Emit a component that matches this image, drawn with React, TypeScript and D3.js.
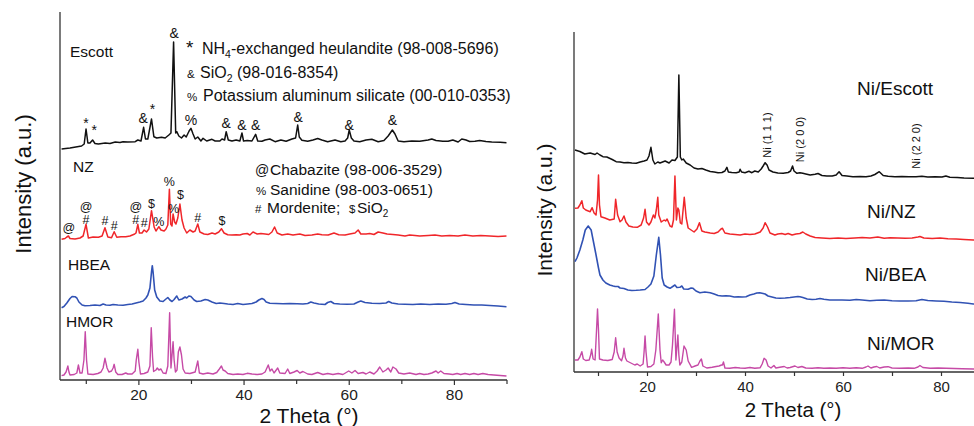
import React from 'react';
import * as d3 from 'd3';

type P = [number, number];

// ---------- Left panel (raw zeolites), [2θ, intensity a.u. incl. offset]
const escott: P[] = [
  [5.3,231],[6.9,232],[9.1,234],[9.6,236],[9.95,251],[10.3,237],[10.7,237],[11.2,240],[11.65,236.5],[12.3,236],
  [13.6,237],[14.5,236.5],[15.5,238],[16.4,237.5],[17.0,238.3],[17.9,238],[19.3,238.3],[19.8,240],[20.4,239],
  [20.9,252.7],[21.25,241],[21.7,241],[22.4,261],[22.85,243.3],[23.4,242],[24.3,242.7],[25.0,242],[25.7,245],
  [26.1,247],[26.6,338],[27.0,247],[27.2,248.3],[27.6,244],[28.1,242],[28.6,245],[29.0,243],[29.55,249],
  [29.9,251.7],[30.3,246],[30.7,241],[31.2,243],[31.8,239],[32.2,241.7],[32.9,239],[33.9,240.7],[34.5,239],
  [35.4,239],[35.8,241],[36.3,240],[36.6,248.3],[37.0,240],[37.7,239],[38.5,240],[39.2,239],[39.6,247],
  [39.9,239],[40.6,239.5],[41.5,239],[42.2,245.7],[42.6,239],[43.4,238.7],[44.0,240],[44.9,241],[45.9,238.3],
  [47.0,240],[48.0,238.7],[49.1,241],[49.8,242],[50.2,255],[50.5,243],[51.0,239.7],[52.1,238.7],[53.1,240],
  [54.0,241.5],[54.8,240],[55.9,238.3],[57.3,240],[58.4,238.3],[59.2,239],[59.7,242],[60.0,250],[60.4,242],
  [60.9,239],[62.0,238.3],[63.2,240],[64.3,240.7],[65.5,238.3],[66.6,239.5],[67.4,244],[68.2,250],[68.7,246],
  [69.3,239],[70.4,238.3],[71.9,239],[73.4,238.7],[75.0,240],[75.7,241],[76.5,239.5],[77.8,238.7],[78.8,238.7],
  [79.7,240],[80.7,238],[81.4,241],[82.2,240],[82.9,238.5],[83.9,238.7],[84.8,239.5],[86.0,238.5],[87.1,238],
  [88.7,237.7],[89.9,237.3],
];

const nz: P[] = [
  [5.3,140.7],[5.95,141.5],[6.3,143],[6.6,144],[6.9,141.5],[7.85,141],[8.8,142],[9.4,144],[9.95,155.7],[10.4,142],
  [11.3,143],[12.3,142.7],[13.0,144],[13.55,152.3],[14.1,143],[14.8,142.3],[15.3,148.3],[15.8,142.7],[16.6,143.3],
  [17.5,143.3],[18.3,144],[19.1,145.7],[19.45,147],[19.8,155.7],[20.1,147],[20.6,147],[21.0,150],[21.45,148],
  [21.9,151],[22.4,169.3],[22.9,153],[23.25,149],[23.8,153.3],[24.2,150],[24.8,149],[25.15,151],[25.5,155],
  [25.8,190.7],[26.05,156],[26.3,154],[26.5,166],[26.8,158],[27.05,156],[27.4,162],[27.8,176],[28.2,160],
  [28.6,152],[29.1,147],[29.7,150],[30.3,148],[30.7,149],[31.2,156],[31.6,148],[32.4,146],[33.1,145.5],[33.9,147],
  [34.5,146],[35.2,148],[35.7,151.3],[36.2,147],[36.9,145.3],[37.7,145],[38.5,145.3],[39.2,145],[39.8,146],
  [40.6,146.5],[41.1,145],[41.7,148],[42.5,146],[43.2,146.5],[44.0,146],[44.7,145.5],[45.3,148],[45.8,153],
  [46.3,147],[47.2,145],[48.3,146],[49.3,145],[50.6,146],[51.6,144.5],[52.9,145],[54.0,146],[54.8,145.3],
  [56.0,145],[57.1,147],[58.0,145.3],[59.2,145],[60.1,146],[61.1,147],[61.7,150],[62.2,146],[63.2,146],
  [63.9,146.5],[64.7,145.5],[65.5,148],[66.4,147],[67.2,146],[68.3,145.5],[69.3,145],[70.6,144],[71.5,145],
  [72.5,144.5],[73.4,144],[75.0,144.5],[76.3,145],[77.6,144],[79.1,144.5],[80.7,144],[82.0,145],[83.5,144],
  [85.0,144.5],[86.7,144],[88.3,143.5],[89.9,144],
];

const hbea: P[] = [
  [5.3,72.3],[5.75,73.5],[6.3,77],[6.9,81.5],[7.3,83.5],[7.85,83.3],[8.2,82],[8.6,78],[9.2,75],[9.75,74.3],
  [10.7,74.5],[11.65,75],[12.6,74.5],[13.2,76],[13.75,75],[14.5,74.7],[15.1,75.5],[16.0,75],[17.0,74.7],
  [17.9,75.5],[18.7,76],[19.45,77],[20.2,78],[20.8,79],[21.35,82],[21.7,85],[22.1,92],[22.4,108],[22.55,114.3],
  [22.7,108],[23.0,90],[23.4,83],[24.0,79],[24.6,78.5],[25.15,81],[25.5,82.5],[25.9,80],[26.3,78.5],[26.7,80.5],
  [27.2,84],[27.6,80],[28.2,81],[28.8,83],[29.1,82],[29.5,84],[29.9,83.5],[30.5,80],[31.0,78.5],[31.8,79],
  [32.6,80.5],[33.1,80],[33.9,78],[34.7,76.5],[35.4,77],[36.2,76.5],[36.9,76],[37.9,75.5],[38.8,76.5],[39.8,75.5],
  [40.7,76],[41.5,76.5],[42.3,78],[42.8,80],[43.4,81.5],[43.8,80.5],[44.2,78],[44.9,76.7],[46.1,76.5],[47.4,76.3],
  [48.7,76.5],[50.1,76.3],[51.2,76],[52.1,76.5],[52.7,78],[53.3,77],[54.2,76],[55.4,75.5],[55.9,77.5],[56.5,78.5],
  [57.1,76.5],[58.2,76],[59.6,75.7],[60.9,76],[61.7,78],[62.2,79],[63.0,77.5],[64.3,76.7],[65.8,76.5],[67.0,77],
  [67.5,78.5],[68.1,77],[69.3,76],[70.6,75.7],[72.1,75.5],[73.6,76],[75.3,75.5],[76.9,76],[78.4,75.7],[79.5,76.5],
  [80.1,77.5],[80.9,76],[82.2,75.5],[83.7,75],[85.2,75],[86.7,74.5],[88.3,74],[89.9,73.3],
];

const hmor: P[] = [
  [5.3,4.3],[5.75,5],[6.15,8],[6.5,14],[6.7,8],[6.9,5],[7.7,5.5],[8.2,7],[8.5,15],[8.8,7],[9.2,7],[9.55,20],
  [9.8,48.3],[10.05,20],[10.3,6],[11.3,5.5],[12.2,6.5],[12.8,8],[13.2,12],[13.55,21.7],[13.95,12],[14.3,8],
  [14.8,9],[15.1,12],[15.3,15.7],[15.6,8],[16.0,5.5],[16.8,5.5],[17.5,7],[17.9,6],[18.7,6],[19.3,9],[19.5,20],
  [19.8,30.7],[20.0,18],[20.3,6],[21.0,6.5],[21.7,8],[22.1,14],[22.35,52.3],[22.6,23],[22.8,8.5],[23.25,10],
  [23.5,12],[23.8,10],[24.2,11],[24.6,7],[25.15,6.5],[25.5,14],[25.85,67.3],[26.1,12],[26.35,28],[26.5,38.3],
  [26.7,20],[26.95,8],[27.25,10],[27.5,28],[27.8,33],[28.1,25],[28.4,11],[28.8,7],[29.7,6.5],[30.7,8],[31.2,19],
  [31.5,7],[32.2,6],[33.1,7],[34.1,6],[34.8,7.5],[35.3,11],[35.7,14],[36.0,10],[36.4,9],[36.9,6.5],[37.9,5.5],
  [38.8,6],[39.8,5.5],[40.6,6.7],[41.5,6],[42.5,5.5],[43.4,6],[44.0,8],[44.6,15],[44.95,9],[45.3,11],[45.7,7],
  [46.4,12],[46.8,7],[47.8,6.5],[48.3,11],[48.7,6.5],[49.5,8],[50.1,9.5],[50.6,7],[51.2,8.5],[52.1,6],[52.9,5.5],
  [54.0,7.5],[55.0,5.5],[55.9,6.5],[56.9,5.5],[57.9,6.5],[58.8,5.5],[59.9,9],[60.5,7],[61.1,9.5],[61.7,6.5],
  [62.6,7.5],[63.2,6],[63.9,8],[64.7,6],[65.3,9],[65.8,13],[66.4,8],[67.0,10],[67.4,12],[67.9,8],[68.3,13],
  [68.9,11],[69.4,7],[70.4,6],[71.5,7],[72.7,5.5],[73.4,6.5],[74.2,5.5],[75.0,6],[75.7,7],[76.5,9],[76.9,7],
  [77.4,9],[78.0,6.5],[79.0,6],[79.7,5.5],[80.5,6.5],[81.2,5.5],[82.0,6.5],[82.9,5.5],[83.7,6.5],[84.5,5.5],
  [85.4,6.5],[86.4,5.5],[87.5,5],[88.7,4.5],[89.9,4],
];

// ---------- Right panel (Ni catalysts)
const niEscott: P[] = [
  [5.2,222],[6.2,220.5],[7.2,218],[8.3,219],[9.3,217.5],[9.7,219],[10.3,217],[10.9,215.3],[11.7,215],[12.8,212.5],
  [13.6,210.3],[14.4,210],[15.2,209.3],[16.0,209.5],[16.8,209],[17.7,208.7],[18.5,210],[19.3,211],[19.9,212],
  [20.3,216],[20.7,224.7],[21.1,212],[21.5,208],[22.1,210],[22.55,209],[23.6,211],[24.4,209],[25.0,212],
  [25.6,211.5],[26.1,215],[26.4,297],[26.7,215],[27.0,212],[27.3,213],[27.9,209],[28.7,207],[29.5,204],[30.3,203],
  [31.1,203.5],[31.9,202],[32.8,200.5],[33.6,200],[34.4,199.3],[35.2,199.5],[35.8,201],[36.2,204.7],[36.5,200],
  [37.2,199.5],[38.1,199.3],[38.7,200],[38.9,202.7],[39.2,200],[39.9,199.3],[40.7,200.7],[41.3,199.3],[41.9,201],
  [42.6,200],[43.2,203],[43.6,206],[44.0,209.3],[44.4,207],[44.8,202],[45.6,200],[46.6,199],[47.7,198.7],
  [48.7,199.5],[49.2,201],[49.6,206],[49.9,201],[50.5,198.7],[51.1,199.3],[51.7,198.7],[52.3,198],[53.2,197],
  [54.2,197.7],[54.8,198.5],[55.6,196.5],[56.6,196],[57.7,196],[58.5,197],[59.1,200.3],[59.7,196.5],[60.7,196],
  [61.9,195.3],[63.4,195.5],[64.6,195.3],[65.6,196],[66.4,197.5],[67.3,200.3],[68.1,196.5],[69.1,195.7],
  [70.5,195.3],[71.9,195.5],[73.4,195.3],[74.8,195.3],[76.0,195.7],[77.2,195],[78.7,195.3],[80.1,195],[80.9,196],
  [81.7,194.7],[83.2,194.5],[84.6,194],[86.5,193.7],[89.9,193.5],
];

const niNz: P[] = [
  [5.2,163.7],[5.8,164],[6.2,167],[6.6,171.3],[6.9,164],[7.4,162],[8.3,160.3],[8.7,164.3],[9.1,159],[9.5,157],
  [9.8,172],[10.0,197],[10.2,167],[10.5,155.3],[11.3,154],[12.3,152],[13.2,153],[13.5,172.7],[13.9,157],
  [14.4,150.3],[14.8,152],[15.2,156],[15.6,150],[16.2,146],[17.0,145],[17.9,144.7],[18.7,147],[19.2,154],
  [19.5,162.7],[19.8,150],[20.3,147],[20.7,150],[21.2,157],[21.5,154],[21.8,162],[22.1,174.7],[22.3,157],
  [22.8,150],[23.4,152],[23.7,151],[24.0,153],[24.6,146],[25.0,145],[25.3,152],[25.6,196],[25.9,152],[26.2,164],
  [26.4,162],[26.7,149],[27.0,148],[27.5,174.7],[27.9,154],[28.3,144],[28.9,142],[29.5,140],[30.1,143],
  [30.6,149.3],[31.1,141],[31.7,140],[32.8,139],[33.6,138.5],[34.4,140],[35.0,143],[35.3,143.7],[35.8,139],
  [36.8,138],[37.9,137.5],[38.9,137],[39.9,138],[40.9,137.5],[41.9,138],[43.0,140],[43.6,144],[44.0,149.3],
  [44.5,145],[45.0,139],[46.0,137],[46.6,138],[47.4,138.5],[48.1,137.5],[48.7,138.5],[49.5,137],[50.3,138],
  [51.1,138.5],[51.7,140],[52.3,138],[53.2,136],[54.2,134.5],[55.6,134],[57.2,133.5],[58.9,134],[60.5,133.5],
  [62.3,134],[63.8,134.5],[65.4,134],[67.0,135],[68.3,133.7],[69.5,134.3],[71.1,134],[72.6,133.7],[74.0,134],
  [75.2,135],[75.6,135.5],[76.4,134],[78.1,133.5],[79.7,134],[81.3,133.3],[83.0,133],[84.6,132.5],[86.5,132],
  [89.9,131.7],
];

const niBea: P[] = [
  [5.2,110.3],[5.6,114],[6.2,122],[6.8,132],[7.3,142],[7.9,146],[8.5,142],[8.9,132],[9.5,117],[10.0,104],
  [10.3,97],[10.9,92],[11.5,89],[12.3,87],[13.0,86],[13.4,85.5],[14.0,85.5],[14.4,84],[15.2,83.5],[16.0,82],
  [16.8,81.5],[17.7,81.7],[18.5,82],[19.5,82.5],[20.1,85],[20.7,88],[21.3,96],[21.8,117],[22.3,134.7],[22.65,117],
  [23.0,94],[23.4,87],[24.0,85],[24.6,83.7],[25.3,86],[25.6,87],[26.0,84.5],[26.6,84.7],[27.0,86],[27.4,83],
  [28.3,82.7],[28.9,84],[29.3,83.7],[29.9,81],[30.7,79.3],[31.7,80],[32.8,79.3],[33.6,78],[34.4,76.5],[35.2,76],
  [36.0,76.3],[36.8,76],[37.7,75],[38.5,75.3],[39.3,75],[40.1,75.3],[40.9,77],[41.7,78],[42.3,79],[42.9,79.3],
  [43.6,78.5],[44.0,78],[44.6,76],[45.4,75],[46.2,74],[47.0,73.7],[48.1,74],[49.1,74.5],[49.9,75],[50.7,75.5],
  [51.1,75.3],[51.7,74.5],[52.6,73],[53.6,72.5],[54.4,72.7],[55.2,73.5],[56.0,72.7],[57.2,72],[58.5,72],[59.7,72],
  [61.3,71.7],[62.6,72.5],[63.8,72],[65.4,71.3],[66.8,71.7],[68.3,72],[69.9,71.3],[71.5,71],[73.2,71],[74.8,71.3],
  [76.0,72.5],[77.2,71.5],[78.9,71],[80.5,70.7],[82.1,70],[83.8,69.5],[85.4,68.7],[86.5,68],[89.9,67.5],
];

const niMor: P[] = [
  [5.2,12],[5.8,12],[6.2,15],[6.6,20.3],[6.9,13],[7.4,11.5],[8.1,12],[8.4,17],[8.6,22.7],[8.9,13],[9.3,12],
  [9.6,42],[9.8,63],[10.0,42],[10.2,13],[10.9,12],[11.9,11.5],[12.8,12.5],[13.2,20],[13.5,34.3],[13.8,20],
  [14.2,14],[14.7,11.3],[15.0,16],[15.2,23.7],[15.5,14],[15.8,11],[16.6,9],[17.4,7],[17.9,8],[18.5,6],[19.1,8],
  [19.3,20],[19.5,36],[19.7,20],[20.0,5],[20.7,5.5],[21.3,8],[21.7,22],[22.2,58],[22.55,22],[22.8,9.3],[23.1,12],
  [23.2,11.3],[23.4,10],[23.8,7],[24.4,7],[24.8,10],[25.1,27],[25.5,62.7],[25.8,12],[26.2,37],[26.4,17],[26.6,7],
  [27.0,10],[27.45,26],[27.9,22],[28.3,11],[29.0,4.7],[29.7,6],[30.3,7],[30.7,11],[31.0,13],[31.3,6],[32.1,4],
  [33.2,4.7],[34.0,5.5],[34.6,6],[35.1,7],[35.3,7],[35.5,10],[35.8,4],[36.8,3.7],[37.9,4.5],[38.9,4],[39.9,3.7],
  [40.9,4.5],[41.9,3.7],[43.0,4.3],[43.4,8],[43.8,13.7],[44.2,12],[44.6,6],[45.2,4],[45.8,6.5],[46.2,4],[47.0,4.7],
  [47.9,5.5],[48.5,4],[49.1,4.5],[50.1,6],[50.7,4.5],[51.5,5.5],[52.3,4],[53.6,3.7],[54.8,4.3],[56.0,3.7],[57.2,4],
  [58.5,3.7],[59.9,4.3],[61.3,3.7],[62.6,4.3],[63.8,3.7],[64.6,5],[65.0,6],[65.6,4],[66.2,5],[66.8,5.5],[67.4,4],
  [68.3,5],[69.1,5.3],[69.9,4],[71.5,3.7],[73.2,4],[74.4,3.7],[75.2,5],[75.6,6.5],[76.2,4.5],[77.7,3.7],[79.3,4],
  [80.9,3.7],[82.6,3.5],[84.2,3.3],[86.5,3],[89.9,2.8],
];

// peak markers: [symbol, 2θ, intensity at glyph centre]
const escottMarks: [string, number, number][] = [
  ['*',9.95,260],['*',11.5,253],['&',20.8,262],['*',22.6,274],['&',26.7,347],['%',29.9,260],
  ['&',36.6,257],['&',39.6,255],['&',42.2,255],['&',50.3,263],['&',60.0,255],['&',68.2,260],
];
const nzMarks: [string, number, number][] = [
  ['@',6.7,152],['@',9.95,173.3],['#',9.95,160.7],['#',13.55,159.3],['#',15.3,155],['@',19.4,173.3],
  ['#',19.4,160.7],['#',21.0,157.3],['$',22.4,176.7],['%',23.8,158.3],['%',25.8,198.3],['%',26.6,171.5],
  ['$',27.9,185.5],['#',31.2,162.3],['$',35.8,160],
];
const niMarks: [string, number, number][] = [
  ['Ni (1 1 1)',44.3,237],['Ni (2 0 0)',51.1,232.5],['Ni (2 2 0)',74.8,226],
];

const majorTicks = [20, 40, 60, 80];
const minorTicks = [10, 30, 50, 70, 90];

const FONT = 'Arial, "Liberation Sans", Helvetica, sans-serif';
const C_BLACK = '#111111';
const C_RED = '#f0262a';
const C_BLUE = '#3152b4';
const C_MAG = '#c64aa6';
const C_AXIS = '#333333';

const glyphShift: Record<string, number> = { '*': 0.6, '@': 0.32 };

export default function App() {
  const xL = d3.scaleLinear().domain([5, 90]).range([60, 507]);
  const yL = d3.scaleLinear().domain([0, 370]).range([380, 10]);
  const xR = d3.scaleLinear().domain([5, 90]).range([574, 990.5]);
  const yR = d3.scaleLinear().domain([0, 340]).range([372, 32]);

  const lineL = d3.line<P>().x(d => xL(d[0])).y(d => yL(d[1]));
  const lineR = d3.line<P>().x(d => xR(d[0])).y(d => yR(d[1]));

  const renderAxes = (
    x: d3.ScaleLinear<number, number>,
    bottom: number,
    top: number,
    fs: number,
    labelDy: number,
    majorLen: number,
    minorLen: number,
  ) => {
    const left = x(5);
    const right = x(90);
    return (
      <g>
        <line x1={left} x2={left} y1={top} y2={bottom} stroke={C_AXIS} strokeWidth={1.3} />
        <line x1={left} x2={right} y1={bottom} y2={bottom} stroke={C_AXIS} strokeWidth={1.3} />
        {majorTicks.map(t => (
          <g key={'M' + t}>
            <line x1={x(t)} x2={x(t)} y1={bottom} y2={bottom + majorLen} stroke={C_AXIS} strokeWidth={1.2} />
            <text x={x(t)} y={bottom + labelDy} textAnchor="middle" fontSize={fs} fontFamily={FONT} fill="#222">{t}</text>
          </g>
        ))}
        {minorTicks.map(t => (
          <line key={'m' + t} x1={x(t)} x2={x(t)} y1={bottom} y2={bottom + minorLen} stroke={C_AXIS} strokeWidth={1.2} />
        ))}
      </g>
    );
  };

  const marks = (arr: [string, number, number][], fs: number) =>
    arr.map(([s, t, v], i) => (
      <text key={i} x={xL(t)} y={yL(v) + (glyphShift[s] ?? 0.36) * fs} textAnchor="middle"
        fontSize={fs} fontFamily={FONT} fill="#111">{s}</text>
    ));

  return (
    <svg width={974} height={426} style={{ position: 'absolute', left: 0, top: 0, background: '#fff' }}>
      <rect width={974} height={426} fill="#fff" />

      {/* ---------------- Left panel ---------------- */}
      {renderAxes(xL, 380, 12, 15.5, 20, 5, 4)}
      <path d={lineL(hmor) ?? ''} fill="none" stroke={C_MAG} strokeWidth={1.4} strokeLinejoin="round" />
      <path d={lineL(hbea) ?? ''} fill="none" stroke={C_BLUE} strokeWidth={1.6} strokeLinejoin="round" />
      <path d={lineL(nz) ?? ''} fill="none" stroke={C_RED} strokeWidth={1.5} strokeLinejoin="round" />
      <path d={lineL(escott) ?? ''} fill="none" stroke={C_BLACK} strokeWidth={1.5} strokeLinejoin="round" />

      {marks(escottMarks, 14)}
      {marks(nzMarks, 12.5)}

      <g fontFamily={FONT} fill="#111">
        <text x={70} y={57} fontSize={15.5}>Escott</text>
        <text x={73} y={172} fontSize={15.5}>NZ</text>
        <text x={68} y={270} fontSize={15.5}>HBEA</text>
        <text x={66} y={327} fontSize={15.5}>HMOR</text>

        <text x={186} y={54} fontSize={19}>*</text>
        <text x={202} y={54} fontSize={16}>NH<tspan fontSize={10.5} dy={4}>4</tspan><tspan dy={-4}>-exchanged heulandite (98-008-5696)</tspan></text>
        <text x={187} y={78} fontSize={11.5}>&amp;</text>
        <text x={200} y={78} fontSize={16}>SiO<tspan fontSize={10.5} dy={4}>2</tspan><tspan dy={-4}> (98-016-8354)</tspan></text>
        <text x={187} y={101} fontSize={11.5}>%</text>
        <text x={203} y={101} fontSize={16}>Potassium aluminum silicate (00-010-0353)</text>

        <text x={255} y={175} fontSize={14}>@</text>
        <text x={270} y={175} fontSize={15.5}>Chabazite (98-006-3529)</text>
        <text x={256} y={195} fontSize={11.5}>%</text>
        <text x={270} y={195} fontSize={15.5}>Sanidine (98-003-0651)</text>
        <text x={255} y={213} fontSize={11.5}>#</text>
        <text x={267} y={213} fontSize={15.5}>Mordenite;</text>
        <text x={349} y={213} fontSize={11.5}>$</text>
        <text x={357} y={213} fontSize={15.5}>SiO<tspan fontSize={10} dy={4}>2</tspan></text>

        <text x={309} y={423} fontSize={21} textAnchor="middle">2 Theta (°)</text>
        <text transform="translate(31,184) rotate(-90)" fontSize={22} textAnchor="middle">Intensity (a.u.)</text>
      </g>

      {/* ---------------- Right panel ---------------- */}
      {renderAxes(xR, 372, 32, 15, 20, 4, 4)}
      <path d={lineR(niMor) ?? ''} fill="none" stroke={C_MAG} strokeWidth={1.4} strokeLinejoin="round" />
      <path d={lineR(niBea) ?? ''} fill="none" stroke={C_BLUE} strokeWidth={1.6} strokeLinejoin="round" />
      <path d={lineR(niNz) ?? ''} fill="none" stroke={C_RED} strokeWidth={1.5} strokeLinejoin="round" />
      <path d={lineR(niEscott) ?? ''} fill="none" stroke={C_BLACK} strokeWidth={1.5} strokeLinejoin="round" />

      <g fontFamily={FONT} fill="#111">
        {niMarks.map(([s, t, v], i) => (
          <text key={i} transform={`translate(${xR(t) + 4},${yR(v)}) rotate(-90)`} fontSize={11} textAnchor="middle">{s}</text>
        ))}
        <text x={857} y={95} fontSize={19}>Ni/Escott</text>
        <text x={867} y={218} fontSize={19}>Ni/NZ</text>
        <text x={865} y={281} fontSize={19}>Ni/BEA</text>
        <text x={867} y={350} fontSize={19}>Ni/MOR</text>

        <text x={793} y={417} fontSize={20.5} textAnchor="middle">2 Theta (°)</text>
        <text transform="translate(552,210) rotate(-90)" fontSize={21} textAnchor="middle">Intensity (a.u.)</text>
      </g>
    </svg>
  );
}
